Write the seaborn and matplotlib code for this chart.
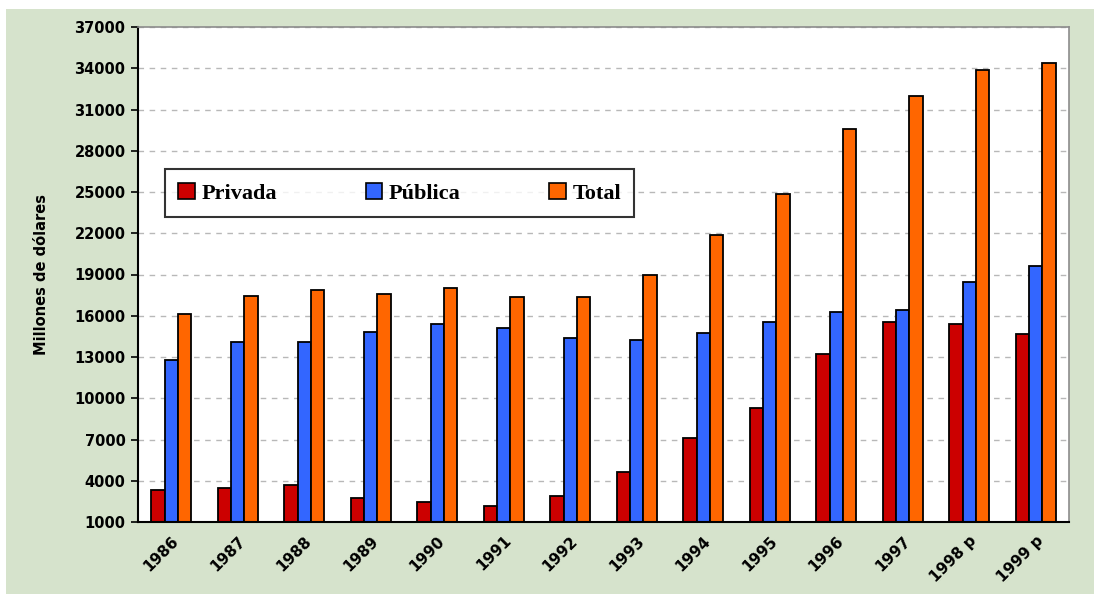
import pandas as pd
import numpy as np
import matplotlib
matplotlib.use("Agg")
import matplotlib.pyplot as plt
from matplotlib.patches import Rectangle
import seaborn as sns

# --- Data (millones de dólares) ---
anios = ["1986", "1987", "1988", "1989", "1990", "1991", "1992",
         "1993", "1994", "1995", "1996", "1997", "1998 p", "1999 p"]
privada = [3300, 3450, 3700, 2750, 2450, 2150, 2900,
           4650, 7100, 9300, 13200, 15550, 15400, 14700]
publica = [12800, 14100, 14100, 14800, 15400, 15100, 14400,
           14250, 14750, 15550, 16300, 16450, 18450, 19650]
total = [16150, 17450, 17900, 17600, 18050, 17350, 17350,
         18950, 21850, 24850, 29550, 31950, 33900, 34350]

series = ["Privada", "Pública", "Total"]
colores = ["#cc0000", "#3366ff", "#ff6600"]
yticks = list(range(1000, 37001, 3000))

df = pd.DataFrame({
    "anio": anios * 3,
    "sector": [s for s in series for _ in anios],
    "valor": privada + publica + total,
})

sns.set_style("white")
plt.rcParams["font.family"] = ["DejaVu Sans"]
plt.rcParams["text.color"] = "black"
plt.rcParams["axes.labelcolor"] = "black"
plt.rcParams["xtick.color"] = "black"
plt.rcParams["ytick.color"] = "black"

fig = plt.figure(figsize=(10.94, 5.94), dpi=100, facecolor="white")
# green chart area background (white strip top and left)
fig.patches.append(Rectangle((6 / 1094, 0), 1, 1 - 9 / 594, transform=fig.transFigure,
                             facecolor="#d6e3cc", edgecolor="none", zorder=-10))

ax = fig.add_axes([138 / 1094, 72 / 594, 931 / 1094, 495 / 594])
ax.set_facecolor("white")

sns.barplot(data=df, x="anio", y="valor", hue="sector", hue_order=series,
            palette=colores, width=0.6, edgecolor="black", linewidth=1.3,
            saturation=1, ax=ax, legend=False)

ax.set_ylim(1000, 37000)
ax.set_xlim(-0.5, len(anios) - 0.5)
ax.set_yticks(yticks)
ax.set_yticklabels([str(v) for v in yticks], fontsize=10.5, fontweight="bold")
ax.yaxis.grid(True, linestyle=(0, (4, 4)), color="#b8b8b8", linewidth=1)
ax.set_axisbelow(True)

# x labels at centers, tick marks at category boundaries
ax.set_xticks(range(len(anios)))
ax.set_xticklabels(anios, rotation=45, ha="right", rotation_mode="anchor",
                   fontsize=11, fontweight="bold")
ax.tick_params(axis="x", which="major", length=0, pad=8)
ax.set_xticks(np.arange(-0.5, len(anios), 1.0), minor=True)
ax.tick_params(axis="x", which="minor", length=5, width=1.2, color="black", direction="out")
ax.tick_params(axis="y", length=5, width=1.2, color="black", direction="out", left=True, pad=4)

ax.set_xlabel("")
ax.set_ylabel("Millones de dólares", fontsize=10.5, fontweight="bold", labelpad=18)

for side in ["left", "bottom"]:
    ax.spines[side].set_color("black")
    ax.spines[side].set_linewidth(1.5)
for side in ["top", "right"]:
    ax.spines[side].set_color("#8c8c8c")
    ax.spines[side].set_linewidth(1.2)

# legend
handles = [Rectangle((0, 0), 1, 1, facecolor=c, edgecolor="black", linewidth=1.2)
           for c in colores]
leg = ax.legend(handles, series, loc="center", ncol=3, mode="expand",
                bbox_to_anchor=(0.029, 0.61, 0.504, 0.109),
                prop={"family": "Liberation Serif", "weight": "bold", "size": 16},
                handlelength=0.75, handleheight=0.75, handletextpad=0.3,
                frameon=True, fancybox=False, borderpad=0.6, borderaxespad=0)
leg.get_frame().set_edgecolor("black")
leg.get_frame().set_linewidth(1.5)
for t in leg.get_texts():
    t.set_color("black")

fig.savefig("out.png", dpi=100, facecolor=fig.get_facecolor())
